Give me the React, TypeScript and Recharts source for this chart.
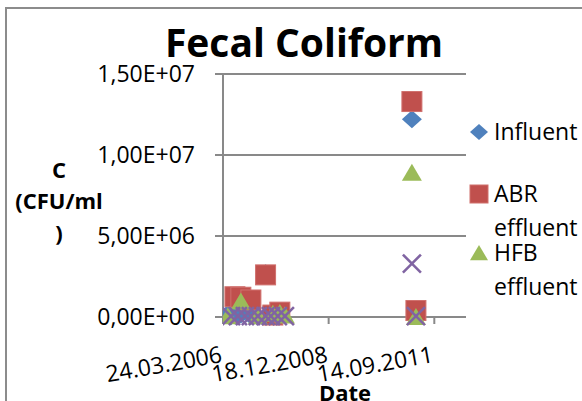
import React from "react";
import { ScatterChart, Scatter, XAxis, YAxis, CartesianGrid } from "recharts";

document.body.style.margin = "0";

const BLUE = "#4F81BD";
const RED = "#C0504D";
const GREEN = "#9BBB59";
const PURPLE = "#8064A2";
const AXIS_GRAY = "#898989";
const FONT = "'Open Sans', sans-serif";

// sampling dates (dd.mm.yyyy) and concentrations in CFU/ml, null = not measured
const sampleDates = [
  "10.05.2006", "08.06.2006", "15.07.2006", "12.08.2006", "09.09.2006",
  "17.10.2006", "13.12.2006", "17.02.2007", "01.05.2007", "20.06.2007",
  "09.07.2007", "25.08.2007", "13.09.2007", "31.10.2007", "14.02.2011",
  "24.03.2011",
];
const influent = [2.0e5, 5e4, 1.0e5, null, 1.5e5, null, 8e4, null, 2.7e6, null, 5e4, null, 1e5, null, 1.22e7, null];
const abrEffluent = [null, null, 1.25e6, null, 1.22e6, null, 1.05e6, null, 2.6e6, null, 1.2e5, null, 3.0e5, null, 1.33e7, 4.0e5];
const hfbEffluent = [5e4, null, null, null, 9.5e5, null, null, 5e4, null, null, 2.0e5, null, 2.5e5, 1e5, 8.9e6, 0];
// fourth reactor; its legend entry does not fit in the legend box
const fourthEffluent = [null, 5e4, null, 5e4, null, 5e4, 5e4, 5e4, 5e4, 5e4, null, 5e4, null, 5e4, 3.3e6, 5e4];

const yTicks = [0, 5e6, 1e7, 1.5e7];
const xTickDates = ["24.03.2006", "18.12.2008", "14.09.2011"];
const xRangeDates = ["24.03.2006", "10.07.2012"];

const toTime = (d: string) => {
  const [dd, mm, yyyy] = d.split(".").map(Number);
  return Date.UTC(yyyy, mm - 1, dd);
};

const fmtDate = (t: number) => {
  const d = new Date(t);
  const p = (n: number) => String(n).padStart(2, "0");
  return `${p(d.getUTCDate())}.${p(d.getUTCMonth() + 1)}.${d.getUTCFullYear()}`;
};

// Excel style scientific: 1,50E+07
const fmtSci = (v: number) => {
  const [m, e] = v.toExponential(2).split("e");
  const exp = Number(e);
  return `${m.replace(".", ",")}E${exp < 0 ? "-" : "+"}${String(Math.abs(exp)).padStart(2, "0")}`;
};

const toPoints = (values: (number | null)[]) =>
  sampleDates
    .map((d, i) => ({ x: toTime(d), y: values[i] }))
    .filter((p) => p.y !== null);

const DiamondMark = ({ cx, cy, fill, r = 10 }: any) => (
  <polygon points={`${cx},${cy - r * 0.9} ${cx + r},${cy} ${cx},${cy + r * 0.9} ${cx - r},${cy}`} fill={fill} />
);
const SquareMark = ({ cx, cy, fill, r = 10 }: any) => (
  <rect x={cx - r} y={cy - r} width={r * 2} height={r * 2} fill={fill} stroke="#D0706D" strokeWidth={1} />
);
const TriangleMark = ({ cx, cy, fill, r = 10 }: any) => (
  <polygon points={`${cx},${cy - r * 0.9} ${cx + r},${cy + r * 0.8} ${cx - r},${cy + r * 0.8}`} fill={fill} />
);
const CrossMark = ({ cx, cy, fill, r = 9 }: any) => (
  <g stroke={fill} strokeWidth={2.5}>
    <line x1={cx - r} y1={cy - r} x2={cx + r} y2={cy + r} />
    <line x1={cx - r} y1={cy + r} x2={cx + r} y2={cy - r} />
  </g>
);

const XTick = ({ x, y, payload }: any) => {
  const ty = y + 38;
  return (
    <text x={x} y={ty} textAnchor="end" transform={`rotate(-10 ${x} ${ty})`} fontSize={23} fontFamily={FONT} fill="#000">
      {fmtDate(payload.value)}
    </text>
  );
};

const legendItems = [
  { lines: ["Influent"], Mark: DiamondMark, color: BLUE },
  { lines: ["ABR", "effluent"], Mark: SquareMark, color: RED },
  { lines: ["HFB", "effluent"], Mark: TriangleMark, color: GREEN },
];

export default function App() {
  return (
    <div style={{ position: "relative", width: 582, height: 401, overflow: "hidden", background: "#fff" }}>
      <div
        style={{
          position: "absolute", left: 5, top: 7, width: 1000, height: 1000,
          borderLeft: "2px solid #8c8c8c", borderTop: "2px solid #8c8c8c",
        }}
      />
      <ScatterChart width={582} height={401} margin={{ top: 74, right: 116, bottom: 0, left: 0 }}>
        <CartesianGrid vertical={false} stroke={AXIS_GRAY} strokeWidth={2} />
        <XAxis
          type="number"
          dataKey="x"
          domain={xRangeDates.map(toTime)}
          ticks={xTickDates.map(toTime)}
          interval={0}
          allowDataOverflow
          height={84}
          tickSize={7}
          tickMargin={0}
          stroke={AXIS_GRAY}
          strokeWidth={2}
          tick={<XTick />}
        />
        <YAxis
          type="number"
          dataKey="y"
          domain={[0, 1.5e7]}
          ticks={yTicks}
          interval={0}
          width={223}
          tickSize={8}
          tickMargin={20}
          stroke={AXIS_GRAY}
          strokeWidth={2}
          tickFormatter={fmtSci}
          tick={{ fontSize: 23, fill: "#000", fontFamily: FONT }}
        />
        <Scatter name="Influent" data={toPoints(influent)} fill={BLUE} shape={DiamondMark} isAnimationActive={false} />
        <Scatter name="ABR effluent" data={toPoints(abrEffluent)} fill={RED} shape={SquareMark} isAnimationActive={false} />
        <Scatter name="HFB effluent" data={toPoints(hfbEffluent)} fill={GREEN} shape={TriangleMark} isAnimationActive={false} />
        <Scatter name="Effluent 4" data={toPoints(fourthEffluent)} fill={PURPLE} shape={CrossMark} isAnimationActive={false} />
      </ScatterChart>
      <svg width={582} height={401} style={{ position: "absolute", left: 0, top: 0, pointerEvents: "none" }} fontFamily={FONT}>
        <text x={304} y={57} textAnchor="middle" fontSize={39} fontWeight={700}>Fecal Coliform</text>
        <g fontSize={22} fontWeight={700} textAnchor="middle">
          <text x={59} y={178}>C</text>
          <text x={59} y={209}>(CFU/ml</text>
          <text x={59} y={241}>)</text>
        </g>
        <text x={345} y={401} textAnchor="middle" fontSize={22} fontWeight={700}>Date</text>
        {legendItems.map((item, i) => {
          const markY = [132, 194, 253][i];
          return (
            <g key={item.lines[0]}>
              <item.Mark cx={479} cy={markY} fill={item.color} r={9} />
              {item.lines.map((line, j) => (
                <text key={line} x={494} y={markY + 8 + j * 34} fontSize={23}>{line}</text>
              ))}
            </g>
          );
        })}
      </svg>
    </div>
  );
}
